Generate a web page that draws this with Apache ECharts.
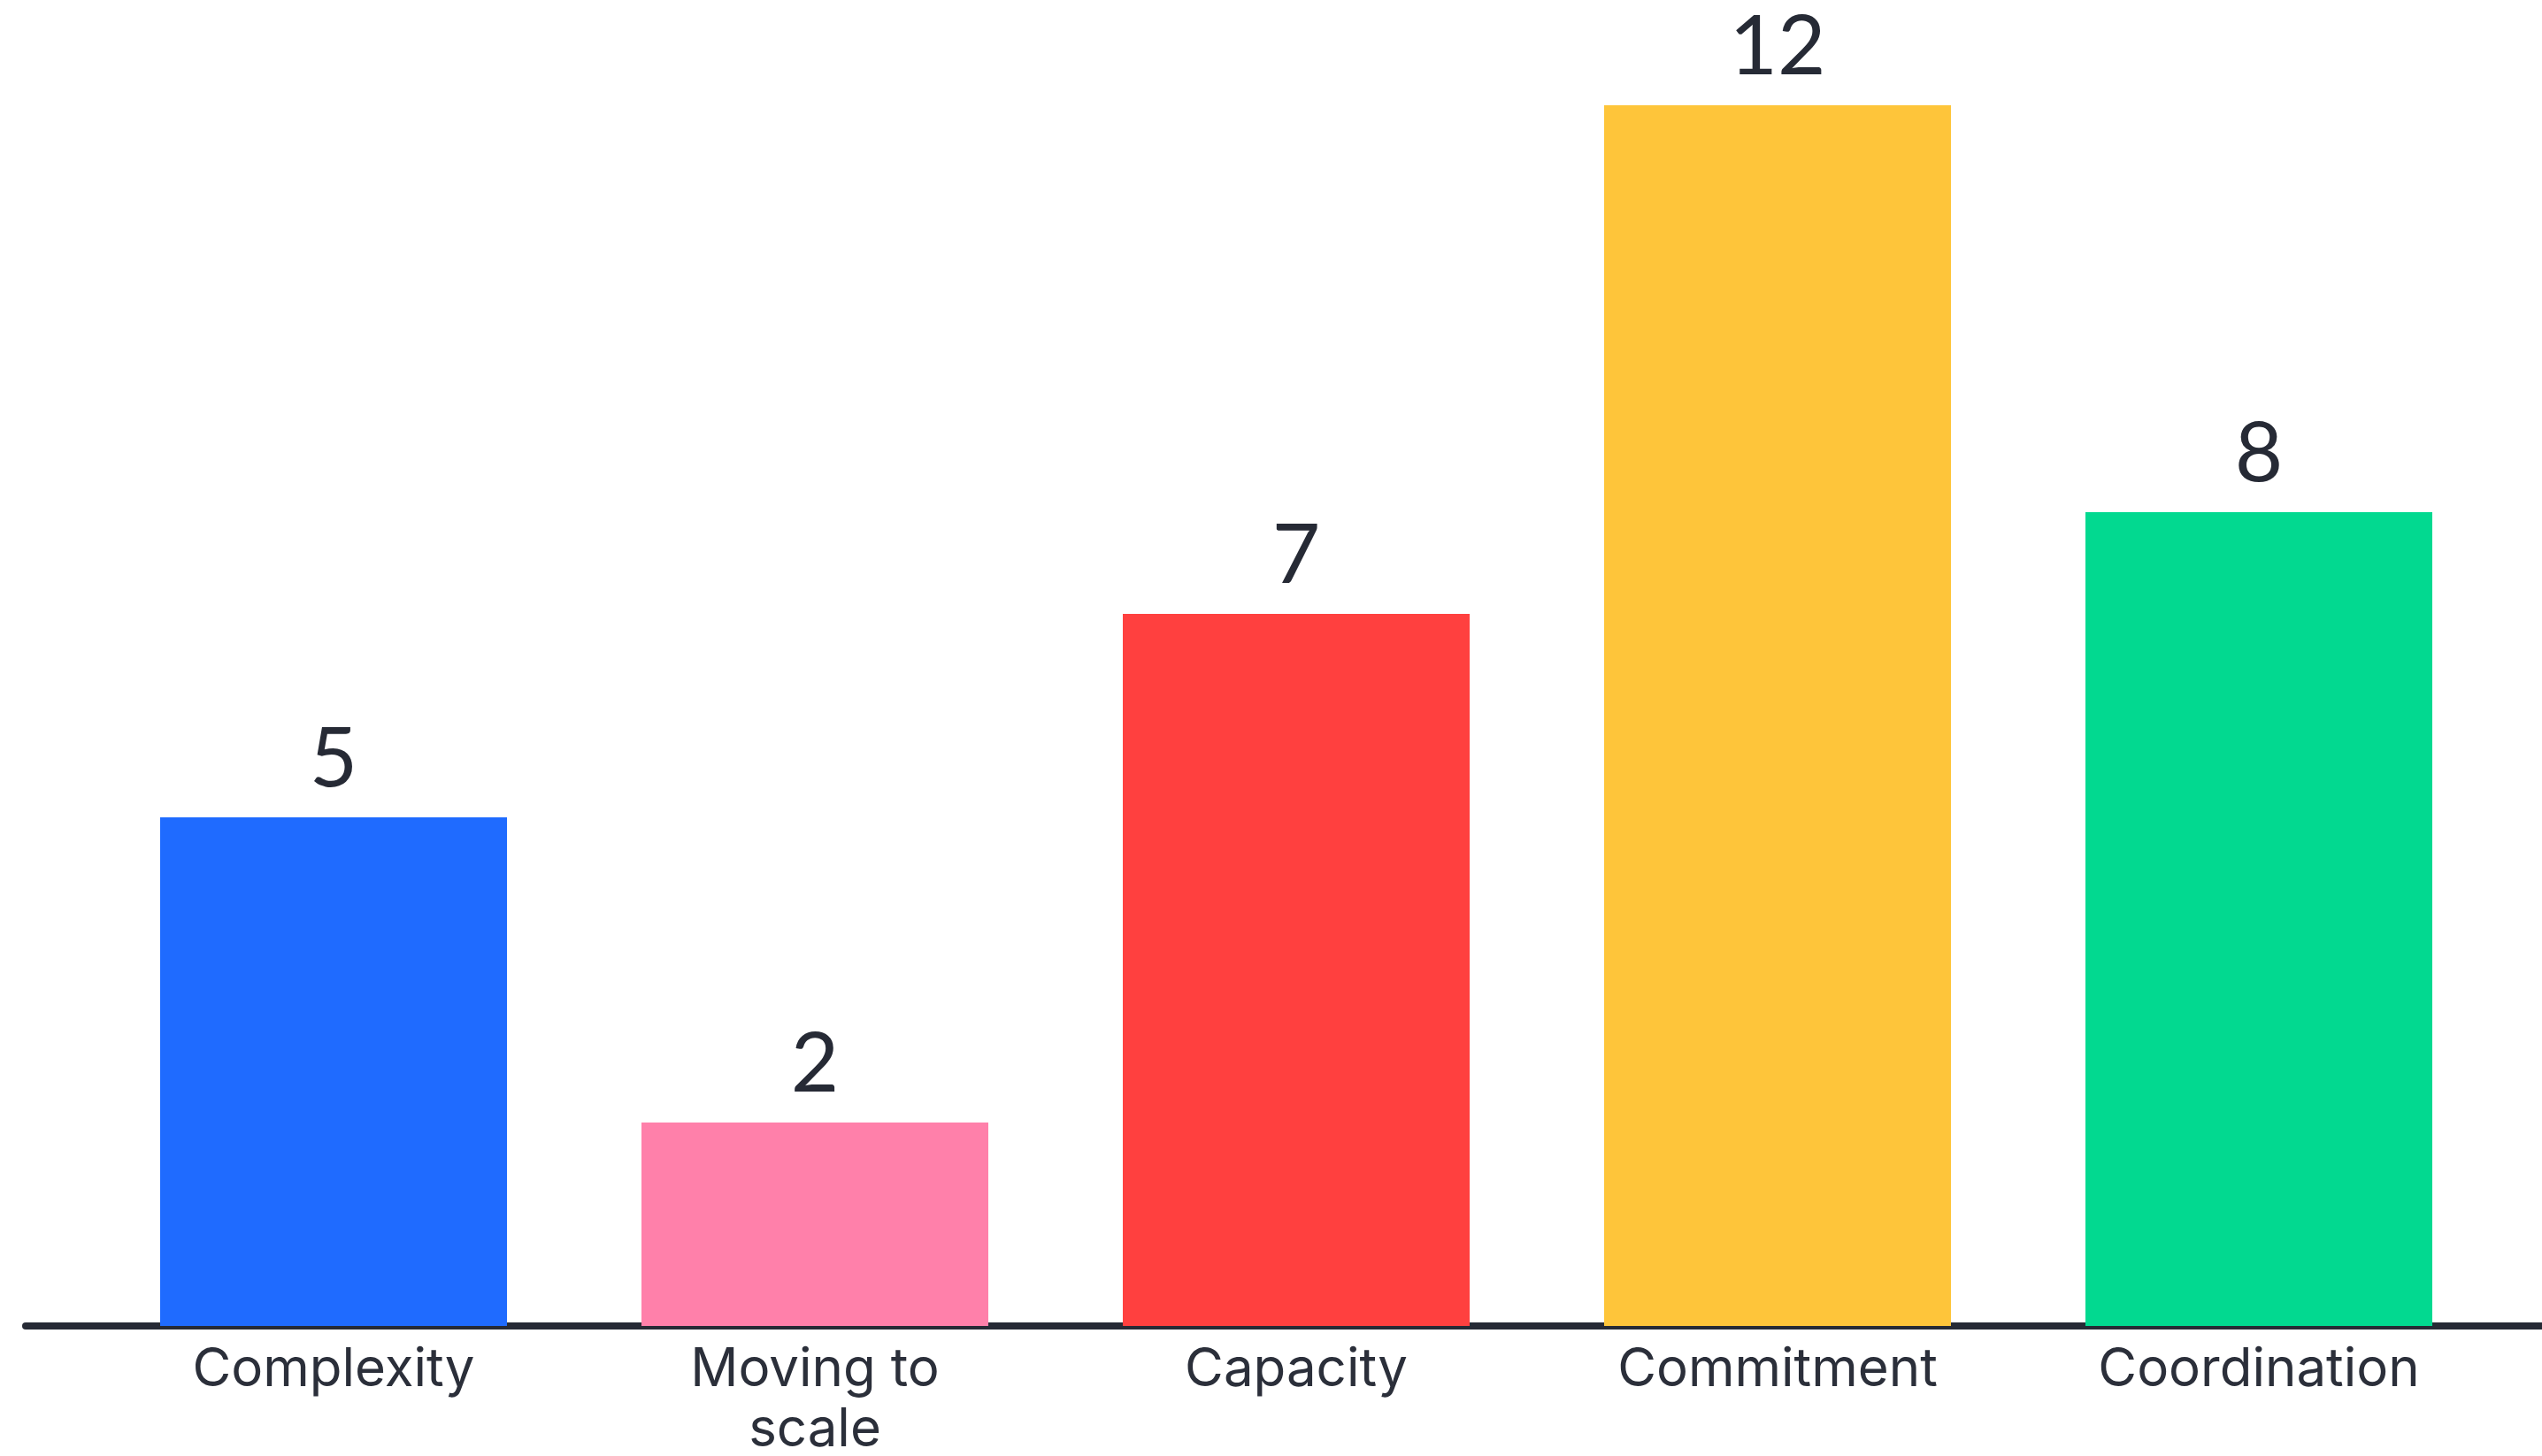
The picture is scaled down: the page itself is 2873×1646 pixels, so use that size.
<!DOCTYPE html>
<html>
<head>
<meta charset="utf-8">
<script src="https://cdn.jsdelivr.net/npm/echarts@6/dist/echarts.min.js"></script>
<style>html,body{margin:0;padding:0;background:#fff}#c{width:2873px;height:1646px}</style>
</head>
<body>
<div id="c"></div>
<script>
const categories = ["Complexity", "Moving to\nscale", "Capacity", "Commitment", "Coordination"];
const values = [5, 2, 7, 12, 8];
const barColors = ["#1F6BFF", "#FF80AA", "#FF403F", "#FEC53A", "#02D990"];

const chart = echarts.init(document.getElementById('c'), null, {renderer: 'canvas'});
chart.setOption({
  backgroundColor: '#ffffff',
  animation: false,
  grid: [
    {left: 105, width: 2720, top: 119, height: 1380, outerBoundsMode: 'none', containLabel: false},
    {left: 29, right: 0, top: 119, height: 1380, outerBoundsMode: 'none', containLabel: false}
  ],
  xAxis: [
    {
      type: 'category', data: categories, gridIndex: 0,
      axisLine: {show: false},
      axisTick: {show: false},
      axisLabel: {interval: 0, color: '#2B2F3A', fontFamily: 'Inter', fontSize: 60, lineHeight: 68, margin: 16}
    },
    {
      type: 'category', data: [''], gridIndex: 1,
      axisLine: {show: true, lineStyle: {color: '#262A35', width: 8}},
      axisTick: {show: false},
      axisLabel: {show: false}
    }
  ],
  yAxis: [
    {type: 'value', gridIndex: 0, min: 0, max: 12, show: false, splitLine: {show: false}},
    {type: 'value', gridIndex: 1, min: 0, max: 12, show: false, splitLine: {show: false}}
  ],
  series: [{
    type: 'bar',
    xAxisIndex: 0, yAxisIndex: 0,
    barWidth: 392,
    data: values.map((v, i) => ({value: v, itemStyle: {color: barColors[i]}})),
    label: {show: true, position: 'top', distance: 18, color: '#262A35', fontFamily: 'Lato', fontSize: 94}
  }]
});
</script>
</body>
</html>
